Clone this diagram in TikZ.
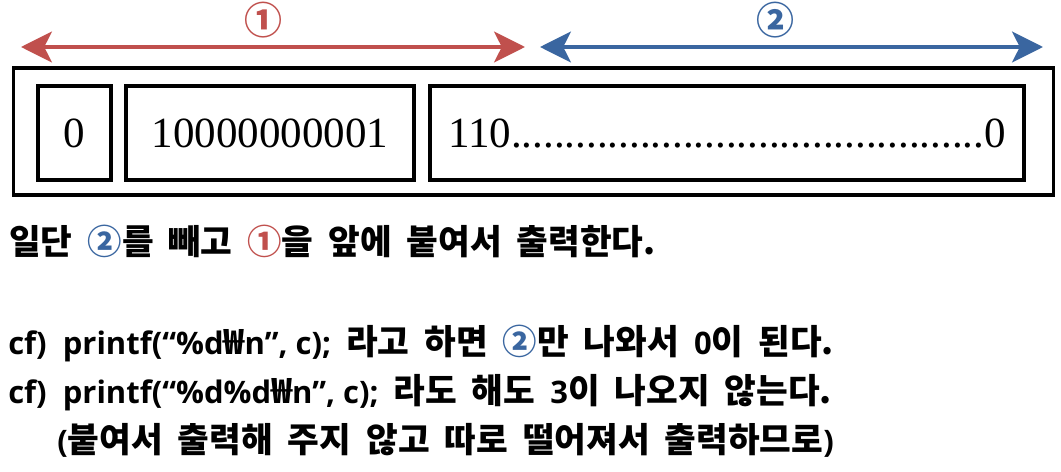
\documentclass[tikz,border=0pt]{standalone}
\usepackage{fontspec}
\usepackage{xcolor}
\newfontfamily\kr{Noto Sans CJK KR}[WordSpace=1.9]
\newfontfamily\lat{Open Sans}[Scale=0.9]
\newfontfamily\bitfont{Liberation Serif}
\definecolor{cred}{RGB}{192,80,77}
\definecolor{cblue}{RGB}{58,102,160}
\usetikzlibrary{arrows.meta,positioning}

\begin{document}
\begin{tikzpicture}[x=0.025cm, y=-0.025cm,
  bitbox/.style={draw, line width=2.3pt, inner sep=0pt, minimum height=2.35cm, font=\bitfont\fontsize{30.6}{36}\selectfont},
  span/.style={line width=2.5pt, {Stealth[length=22pt,width=22pt,inset=5.5pt]}-{Stealth[length=22pt,width=22pt,inset=5.5pt]}},
  tag/.style={font=\kr\bfseries\fontsize{27}{30}\selectfont, inner sep=0pt},
  line/.style={anchor=base west, inner sep=0pt, font=\kr\bfseries\fontsize{24.5}{28}\selectfont}]
  \useasboundingbox (0,0) rectangle (1061,472);

  % Outer word and its three fields
  \node[draw, line width=2.3pt, inner sep=0pt, minimum width=25.975cm, minimum height=3.175cm] (word) at (533.5,131.5) {};
  \node[bitbox, minimum width=1.825cm] (sign) at (74.5,133) {0};
  \node[bitbox, minimum width=7.2cm] (expo) at (270,133) {10000000001};
  \node[bitbox, minimum width=14.85cm] (mant) at (727,133) {110............................................0};

  % Span arrows over the fields
  \coordinate (r1) at (21,47);
  \coordinate (r2) at (525,47);
  \coordinate (b1) at (540,47);
  \coordinate (b2) at (1043,47);
  \draw[span, cred] (r1) -- (r2);
  \draw[span, cblue] (b1) -- (b2);
  \node[tag, text=cred] (one) at (263,20) {①};
  \node[tag, text=cblue] (two) at (775,20) {②};

  % Notes below
  \node[line] (l1) at (9,255) {일단 {\color{cblue}②}를 빼고 {\color{cred}①}을 앞에 붙여서 출력한다.};
  \node[line] (l2) at (8,355) {{\lat cf)\ \ printf(“\%d}₩{\lat n”, c);} 라고 하면 {\color{cblue}②}만 나와서 {\lat 0}이 된다.};
  \node[line] (l3) at (8,403) {{\lat cf)\ \ printf(“\%d\%d}₩{\lat n”, c);} 라도 해도 {\lat 3}이 나오지 않는다.};
  \node[line] (l4) at (57,452) {{\lat (}붙여서 출력해 주지 않고 따로 떨어져서 출력하므로{\lat )}};
\end{tikzpicture}
\end{document}
